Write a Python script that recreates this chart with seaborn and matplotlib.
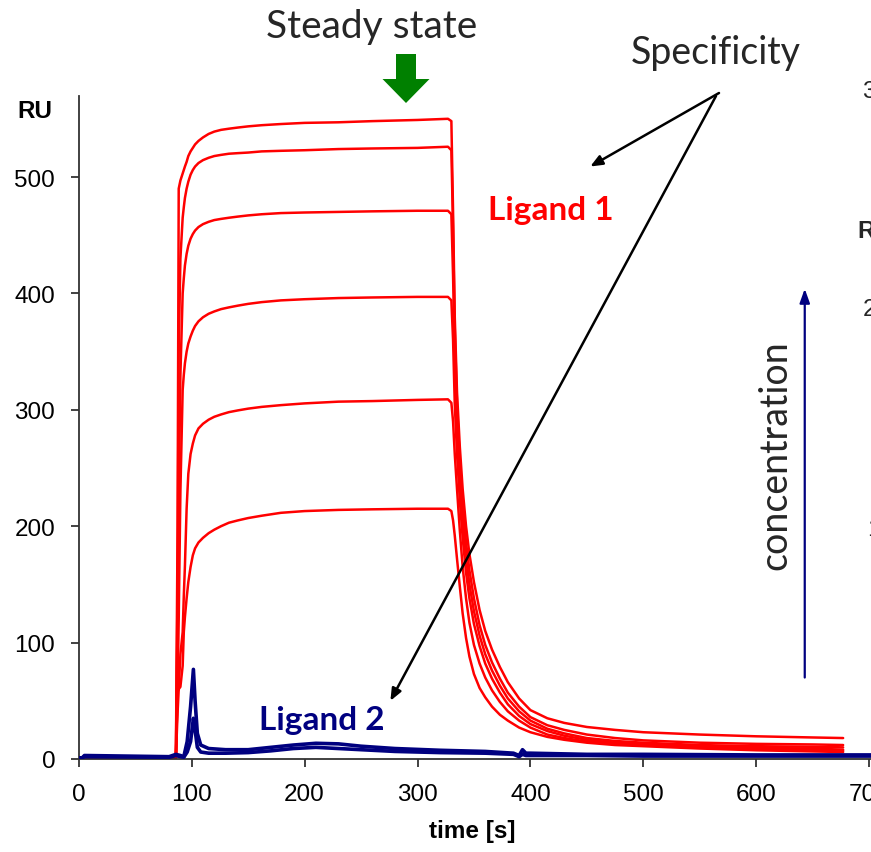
import matplotlib
matplotlib.use("Agg")
import matplotlib.pyplot as plt
import matplotlib.transforms as mtransforms
from matplotlib.patches import FancyArrow
import pandas as pd
import seaborn as sns

# ---- Ligand 1 sensorgrams (six analyte concentrations) ----
t_ligand1 = [0, 86, 87.5, 88.5, 90, 92, 93, 94, 95.5, 97, 99, 101, 103, 106, 110, 115, 120, 126,
             133, 141, 150, 162, 179, 200, 230, 260, 300, 327,
             330, 331.5, 333, 335, 337.5, 340, 343, 346, 350, 355, 360, 366, 373, 380, 390, 400,
             415, 430, 450, 475, 500, 550, 600, 650, 677]
ru_l1_c6 = [1, 1, 200, 490, 497, 503, 506, 509, 513, 518, 522, 525, 528, 531, 534, 537, 539, 540.5,
            541.5, 542.5, 543.5, 544.5, 545.5, 546.5, 547, 548, 549, 550,
            548, 470, 380, 315, 268, 232, 200, 176, 152, 128, 110, 94, 79, 66, 52, 42,
            35, 31, 27.5, 25, 23, 21, 19.5, 18.5, 18]
ru_l1_c5 = [1, 1, 150, 350, 430, 465, 474, 482, 490, 496, 502, 506, 509, 512, 514.5, 516.5, 518, 519,
            520, 520.5, 521, 522, 522.5, 523, 524, 524.5, 525, 526,
            523, 455, 370, 305, 255, 218, 186, 162, 138, 115, 98, 83, 69, 57, 45, 36,
            29, 25, 21, 18, 16, 14, 13, 12.5, 12]
ru_l1_c4 = [1, 1, 120, 220, 330, 400, 413, 424, 434, 441, 447, 451, 454, 457, 459.5, 461.5, 463, 464,
            465, 466, 467, 468, 469, 469.5, 470, 470.5, 471, 471,
            468, 415, 345, 290, 242, 205, 173, 150, 127, 106, 90, 76, 63, 52, 41, 33,
            26, 22, 18, 15.5, 14, 12, 11, 10.5, 10]
ru_l1_c3 = [1, 1, 60, 120, 230, 317, 330, 340, 350, 357, 363, 368, 372, 376, 379.5, 382.5, 384.5, 386.5,
            388, 389.5, 391, 392.5, 394, 395, 396, 396.5, 397, 397,
            394, 360, 305, 262, 222, 190, 160, 138, 116, 97, 82, 69, 57, 47, 37, 30,
            24, 20, 16.5, 14, 13, 11, 9.5, 9, 8]
ru_l1_c2 = [1, 1, 40, 60, 90, 109, 140, 166, 215, 245, 262, 271, 278, 284, 288, 291.5, 294, 296,
            298, 299.5, 301, 302.5, 304, 305.5, 307, 307.5, 308.5, 309,
            306, 290, 262, 232, 196, 165, 138, 117, 98, 82, 70, 59, 49, 41, 33, 27,
            21, 18, 15, 13, 12, 10, 8.5, 8, 7]
ru_l1_c1 = [1, 1, 58, 60, 62, 80, 109, 122, 138, 152, 165, 175, 181, 186, 190, 194, 197, 200,
            203, 205, 207, 209, 211.5, 213, 214, 214.5, 215, 215,
            213, 205, 192, 172, 148, 125, 104, 88, 73, 61, 53, 45, 38, 33, 27, 23,
            19, 16.5, 14, 12, 11, 9, 7.5, 6.5, 6]

# ---- Ligand 2 sensorgrams (no specific binding) ----
t_ligand2 = [0, 3, 5, 80, 86, 90, 93, 96, 99, 101.5, 103, 105, 108, 115, 130, 150, 170, 190, 210,
             230, 250, 280, 320, 360, 385, 390, 393, 396, 400, 450, 500, 600, 702]
ru_l2_a = [1, 1, 3, 2, 4, 3, 2, 15, 45, 77, 50, 22, 12, 9, 8, 8, 10, 12, 13.5,
           13, 11, 9, 7.5, 6.5, 5, 3, 8, 5, 5, 4, 4, 3.5, 3.5]
ru_l2_b = [1, 1, 2, 1.5, 3, 2, 1.5, 6, 15, 35, 25, 10, 6, 5, 5, 5.5, 7, 9, 10,
           9, 8, 6.5, 5.5, 5, 4, 2, 4, 3, 3, 3, 2.5, 2.5, 2.5]

x_ticks = [0, 100, 200, 300, 400, 500, 600, 700]
y_ticks = [0, 100, 200, 300, 400, 500]

RED = "#ff0000"
NAVY = "#000080"


def long_frame(t, series):
    parts = []
    for name, vals in series.items():
        parts.append(pd.DataFrame({"time": t, "RU": vals, "curve": name}))
    return pd.concat(parts, ignore_index=True)


df1 = long_frame(t_ligand1, {"c1": ru_l1_c1, "c2": ru_l1_c2, "c3": ru_l1_c3,
                             "c4": ru_l1_c4, "c5": ru_l1_c5, "c6": ru_l1_c6})
df2 = long_frame(t_ligand2, {"a": ru_l2_a, "b": ru_l2_b})

sns.set_theme(style="ticks")
plt.rcParams["font.family"] = ["Liberation Sans", "DejaVu Sans"]
CAL = ["Lato", "DejaVu Sans"]

W, H = 871, 853
fig = plt.figure(figsize=(W / 100, H / 100), dpi=100)
# pixel coordinates measured from the top-left corner
px = mtransforms.Affine2D().scale(1 / W, -1 / H).translate(0, 1) + fig.transFigure

x0, y0, ytop = 78.8, 760, 97
ax = fig.add_axes([x0 / W, (H - y0) / H, (W - x0) / W, (y0 - ytop) / H])

sns.lineplot(data=df1, x="time", y="RU", units="curve", estimator=None, sort=False,
             color=RED, lw=1.8, ax=ax, legend=False, zorder=2)
sns.lineplot(data=df2, x="time", y="RU", units="curve", estimator=None, sort=False,
             color=NAVY, lw=2.6, ax=ax, legend=False, zorder=3)

ax.set_xlim(0, (W - x0) / 1.129)
ax.set_ylim(0, (y0 - ytop) / 1.164)
ax.set_xticks(x_ticks)
ax.set_yticks(y_ticks)
sns.despine(ax=ax)
for s in ("left", "bottom"):
    ax.spines[s].set_color("#333333")
    ax.spines[s].set_linewidth(1.3)
ax.tick_params(axis="both", direction="out", length=6, width=1.3, color="#333333",
               labelsize=17.5, pad=11, labelcolor="black")

ax.set_xlabel("time [s]", fontweight="bold", fontsize=17.5, color="black")
ax.xaxis.set_label_coords((472 - x0) / (W - x0), (y0 - 820) / (y0 - ytop))
ax.set_ylabel("RU", rotation=0, fontweight="bold", fontsize=17.5, color="black")
ax.yaxis.set_label_coords((35 - x0) / (W - x0), (y0 - 111) / (y0 - ytop))
ax.yaxis.label.set_va("center")
ax.yaxis.label.set_ha("center")

# annotations
fig.text(372, 27, "Steady state", transform=px, ha="center", va="center",
         fontsize=28, family=CAL)
fig.add_artist(FancyArrow(406, 55, 0, 49, width=20, head_width=47, head_length=24,
                          length_includes_head=True, color="#008000", lw=0, transform=px))

fig.text(716, 53, "Specificity", transform=px, ha="center", va="center",
         fontsize=27, family=CAL)
black_arrow = dict(arrowstyle="-|>,head_length=0.6,head_width=0.25", color="black",
                   lw=1.8, shrinkA=0, shrinkB=0)
ax.annotate("", xy=(453, 509), xycoords="data", xytext=(719, 94), textcoords=px,
            arrowprops=black_arrow, annotation_clip=False)
ax.annotate("", xy=(276, 50), xycoords="data", xytext=(716, 97), textcoords=px,
            arrowprops=black_arrow, annotation_clip=False)

ax.text(418, 472, "Ligand 1", color=RED, fontweight="bold", fontsize=24,
        family=CAL, ha="center", va="center")
ax.text(215, 34, "Ligand 2", color=NAVY, fontweight="bold", fontsize=24,
        family=CAL, ha="center", va="center")

ax.annotate("", xy=(643, 404), xytext=(643, 70),
            arrowprops=dict(arrowstyle="-|>,head_length=0.7,head_width=0.25", color=NAVY,
                            lw=1.6, shrinkA=0, shrinkB=0))
ax.text(617, 262, "concentration", rotation=90, fontsize=27, family=CAL,
        ha="center", va="center")

# edge of the neighbouring panel
fig.text(862, 92, "300", transform=px, ha="left", va="center", fontsize=17.5)
fig.text(857, 232, "RU", transform=px, ha="left", va="center", fontsize=17.5, fontweight="bold")
fig.text(863, 310, "200", transform=px, ha="left", va="center", fontsize=17.5)
fig.text(867, 530, "100", transform=px, ha="left", va="center", fontsize=17.5)

fig.savefig("out.png", dpi=100)
